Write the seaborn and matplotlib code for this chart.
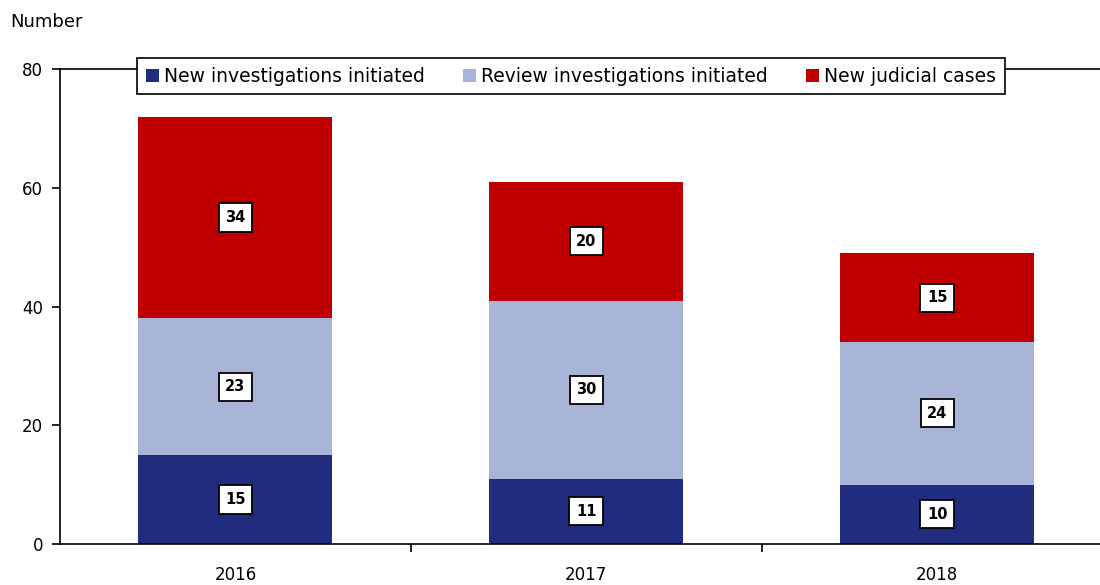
import matplotlib
matplotlib.use("Agg")
import matplotlib.pyplot as plt
import seaborn as sns
import pandas as pd
import numpy as np

years = ["2016", "2017", "2018"]
new_inv = [15, 11, 10]
review_inv = [23, 30, 24]
judicial = [34, 20, 15]
series_names = ["New investigations initiated", "Review investigations initiated", "New judicial cases"]
colors = ["#212C7E", "#A9B4D9", "#C00000"]

sns.set_theme(style="white")
plt.rcParams['font.family'] = ['DejaVu Sans']
plt.rcParams['text.color'] = 'black'
plt.rcParams['xtick.color'] = 'black'
plt.rcParams['ytick.color'] = 'black'

fig = plt.figure(figsize=(11, 5.85), dpi=100)
ax = fig.add_axes([0.0545, 0.070, 0.957, 0.812])

series = [new_inv, review_inv, judicial]
bottom = np.zeros(len(years))
for name, vals, col in zip(series_names, series, colors):
    df = pd.DataFrame({"year": years, "value": vals})
    sns.barplot(data=df, x="year", y="value", color=col, bottom=bottom,
                width=0.553, ax=ax, label=name, saturation=1, linewidth=0)
    for i, v in enumerate(vals):
        ax.text(i, bottom[i] + v / 2, str(v), ha="center", va="center",
                fontsize=10.5, fontweight="bold", color="black",
                bbox=dict(boxstyle="square,pad=0.45", fc="white", ec="black", lw=1.3))
    bottom = bottom + np.array(vals)

ax.set_xlim(-0.5, 2.5)
ax.set_ylim(0, 80)
ax.set_yticks([0, 20, 40, 60, 80])
ax.set_xlabel("")
ax.set_ylabel("")

for s in ["left", "bottom", "top"]:
    ax.spines[s].set_visible(True)
    ax.spines[s].set_color("black")
    ax.spines[s].set_linewidth(1.2)
ax.spines["right"].set_visible(False)

ax.set_xticks([0, 1, 2])
ax.set_xticklabels(years, fontsize=12)
ax.set_xticks([0.5, 1.5], minor=True)
ax.tick_params(axis="x", which="major", length=0, pad=16)
ax.tick_params(axis="x", which="minor", direction="out", length=6, width=1.2, color="black", bottom=True)
ax.tick_params(axis="y", direction="out", length=6, width=1.2, color="black", left=True, labelsize=12, pad=6)

fig.text(10 / 1100, 1 - 22 / 585, "Number", fontsize=13, ha="left", va="center")

leg = ax.legend(loc="center", bbox_to_anchor=(0.4855, 0.985), ncol=3, fontsize=13.5,
                frameon=True, fancybox=False, edgecolor="black", framealpha=1,
                handlelength=0.7, handleheight=0.7, handletextpad=0.3,
                columnspacing=2.0, borderpad=0.45, borderaxespad=0)
leg.get_frame().set_linewidth(1.2)
leg.get_frame().set_boxstyle("square", pad=0.0)

fig.savefig("out.png", dpi=100)
